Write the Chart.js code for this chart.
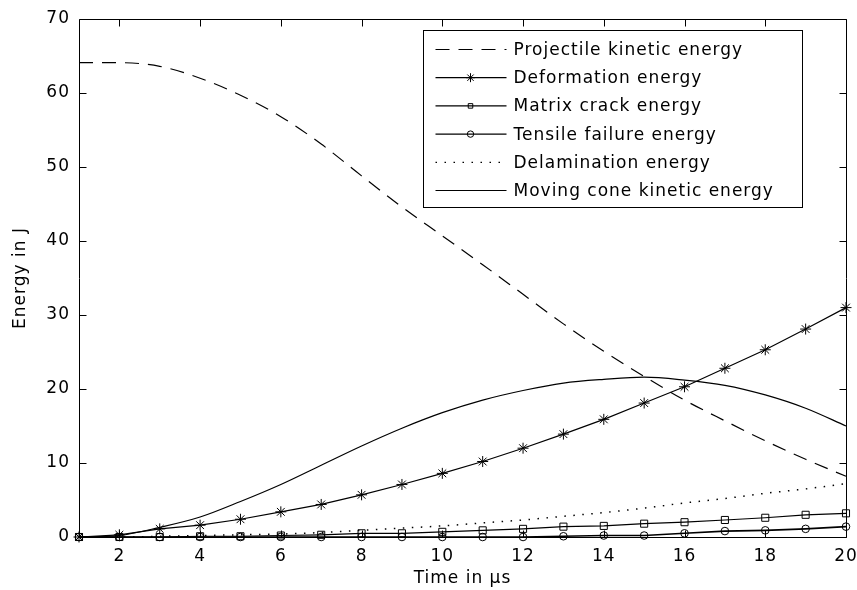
<!DOCTYPE html>
<html><head><meta charset="utf-8">
<script src="https://cdn.jsdelivr.net/npm/chart.js@4/dist/chart.umd.min.js"></script>
<style>html,body{margin:0;padding:0;background:#fff;} canvas{display:block;}</style>
</head><body>
<canvas id="c" width="857" height="590"></canvas>
<script>
// ---- data ----
const timeUs = [1,2,3,4,5,6,7,8,9,10,11,12,13,14,15,16,17,18,19,20];
const projectileKE   = [64.1,64.1,63.6,62.0,59.7,56.8,53.1,48.8,44.6,40.7,36.8,32.8,28.8,25.1,21.7,18.5,15.7,13.0,10.5,8.2];
const deformation    = [0,0.3,1.1,1.6,2.4,3.4,4.4,5.7,7.1,8.6,10.2,12.0,13.9,15.9,18.1,20.3,22.8,25.3,28.1,31.0];
const matrixCrack    = [0,0,0,0.1,0.1,0.2,0.3,0.5,0.5,0.7,0.9,1.1,1.4,1.5,1.8,2.0,2.3,2.6,3.0,3.2];
const tensileFailure = [0,0,0,0,0,0,0,0,0,0,0,0,0.1,0.2,0.2,0.5,0.8,0.9,1.1,1.4];
const delamination   = [0,0,0.1,0.2,0.3,0.4,0.6,0.9,1.2,1.5,1.9,2.3,2.8,3.3,3.9,4.6,5.2,5.9,6.5,7.2];
const movingConeKE   = [0,0.2,1.3,2.7,4.8,7.1,9.7,12.3,14.7,16.8,18.5,19.8,20.8,21.3,21.6,21.2,20.5,19.2,17.4,15.0];
const seriesLabels = ['Projectile kinetic energy','Deformation energy','Matrix crack energy','Tensile failure energy','Delamination energy','Moving cone kinetic energy'];
const xTickValues = [2,4,6,8,10,12,14,16,18,20];
const yTickValues = [0,10,20,30,40,50,60,70];
const xTitle = 'Time in μs';
const yTitle = 'Energy in J';

const FONT = '"DejaVu Sans", "Liberation Sans", sans-serif';
const FSIZE = 17;
const LS = '1px';
const toPts = arr => arr.map((v,i)=>({x: timeUs[i], y: v}));

const base = {borderColor:'#000', backgroundColor:'rgba(0,0,0,0)', borderWidth:1.2, pointBorderColor:'#000', pointBackgroundColor:'rgba(0,0,0,0)', pointBorderWidth:1, clip:false, tension:0};
const datasets = [
  Object.assign({}, base, {label:seriesLabels[0], data:toPts(projectileKE), borderDash:[14,9], pointRadius:0, cubicInterpolationMode:'monotone'}),
  Object.assign({}, base, {label:seriesLabels[1], data:toPts(deformation), pointStyle:'star', pointRadius:5.5}),
  Object.assign({}, base, {label:seriesLabels[2], data:toPts(matrixCrack), pointStyle:'rect', pointRadius:5}),
  Object.assign({}, base, {label:seriesLabels[3], data:toPts(tensileFailure), pointStyle:'circle', pointRadius:3.8, borderWidth:1.6}),
  Object.assign({}, base, {label:seriesLabels[4], data:toPts(delamination), borderDash:[1.5,7.5], borderWidth:1.5, pointRadius:0, cubicInterpolationMode:'monotone'}),
  Object.assign({}, base, {label:seriesLabels[5], data:toPts(movingConeKE), pointRadius:0, cubicInterpolationMode:'monotone'})
];

const frame = {
  id:'frame',
  beforeLayout(c){ c.ctx.letterSpacing = LS; },
  beforeDraw(c){ c.ctx.letterSpacing = LS; },
  afterDraw(c){
    const ctx = c.ctx, a = c.chartArea, x = c.scales.x, y = c.scales.y;
    ctx.save();
    ctx.strokeStyle = '#000'; ctx.lineWidth = 1; ctx.setLineDash([]);
    const L = Math.round(a.left)+0.5, R = Math.round(a.right)+0.5, T = Math.round(a.top)+0.5, B = Math.round(a.bottom)+0.5;
    ctx.beginPath();
    ctx.rect(L, T, R-L, B-T);
    const TL = 7;
    x.ticks.forEach(t=>{ const px = Math.round(x.getPixelForValue(t.value))+0.5; ctx.moveTo(px,B); ctx.lineTo(px,B-TL); ctx.moveTo(px,T); ctx.lineTo(px,T+TL); });
    y.ticks.forEach(t=>{ const py = Math.round(y.getPixelForValue(t.value))+0.5; ctx.moveTo(L,py); ctx.lineTo(L+TL,py); ctx.moveTo(R,py); ctx.lineTo(R-TL,py); });
    ctx.stroke();

    // legend box inside plot, top-right
    const bw = 379, bh = 177;
    const bx = Math.round(a.right - 44 - bw)+0.5, by = Math.round(a.top + 11)+0.5;
    ctx.fillStyle = '#fff';
    ctx.fillRect(bx, by, bw, bh);
    ctx.strokeRect(bx, by, bw, bh);
    const ds = c.data.datasets;
    ds.forEach((d,i)=>{
      const cy = by + 19 + i*28.2;
      ctx.save();
      ctx.lineWidth = 1.2;
      ctx.setLineDash(d.borderDash || []);
      ctx.beginPath(); ctx.moveTo(bx+12, cy); ctx.lineTo(bx+83, cy); ctx.stroke();
      ctx.restore();
      if (d.pointRadius > 0) {
        ctx.save();
        ctx.strokeStyle = '#000'; ctx.fillStyle = 'rgba(0,0,0,0)'; ctx.lineWidth = 1; ctx.setLineDash([]);
        Chart.helpers.drawPoint(ctx, {pointStyle:d.pointStyle, radius: d.pointStyle==='star'?4.5:3.2, borderWidth:1, rotation:0}, bx+47, cy);
        ctx.restore();
      }
      ctx.fillStyle = '#000';
      ctx.font = FSIZE + 'px ' + FONT;
      ctx.letterSpacing = LS;
      ctx.textBaseline = 'middle'; ctx.textAlign = 'left';
      ctx.fillText(d.label, bx+90, cy+1);
    });
    ctx.restore();
  }
};

const tickFont = {family: FONT, size: FSIZE};
new Chart(document.getElementById('c'), {
  type: 'line',
  data: {datasets},
  plugins: [frame],
  options: {
    responsive: false, animation: false, devicePixelRatio: 1,
    layout: {padding: {top: 19, right: 11, left: 0, bottom: 0}},
    plugins: {legend: {display: false}, tooltip: {enabled: false}},
    events: [],
    scales: {
      x: {
        type: 'linear', min: 1, max: 20,
        grid: {display: false, drawTicks: false}, border: {display: false},
        afterBuildTicks: s => { s.ticks = xTickValues.map(v => ({value: v})); },
        afterFit: s => { s.height = 53; s.paddingLeft = 0; s.paddingRight = 0; },
        ticks: {padding: 9, color: '#000', font: tickFont, maxRotation: 0, autoSkip: false},
        title: {display: true, text: xTitle, color: '#000', font: tickFont, padding: {top: 0, bottom: 1}}
      },
      y: {
        type: 'linear', min: 0, max: 70,
        grid: {display: false, drawTicks: false}, border: {display: false},
        afterBuildTicks: s => { s.ticks = yTickValues.map(v => ({value: v})); },
        afterFit: s => { s.width = 79; s.paddingTop = 0; s.paddingBottom = 0; },
        ticks: {padding: 9, color: '#000', font: tickFont, autoSkip: false},
        title: {display: true, text: yTitle, color: '#000', font: tickFont, padding: {top: 10, bottom: 0}}
      }
    }
  }
});
</script>
</body></html>
